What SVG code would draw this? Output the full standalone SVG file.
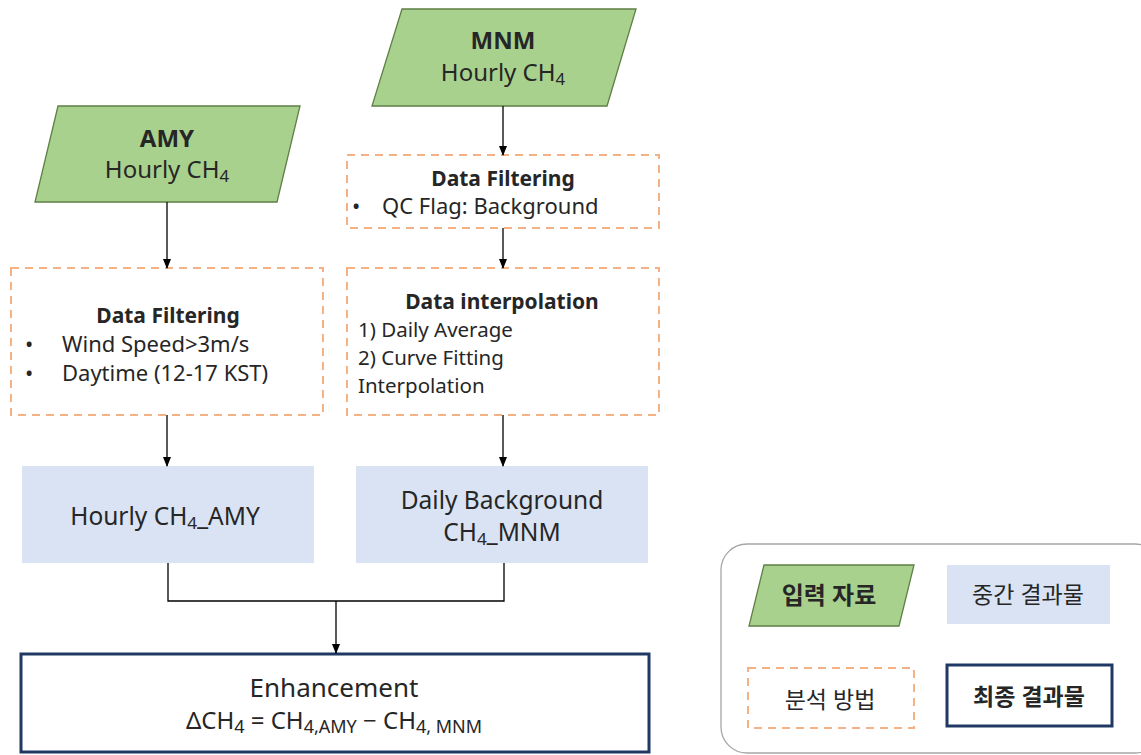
<svg xmlns="http://www.w3.org/2000/svg" width="1141" height="755" viewBox="0 0 1141 755">
<defs>
<style>
text{font-family:"Noto Sans","Noto Sans CJK KR",sans-serif;fill:#262626}
.in{fill:#a9d18e;stroke:#5f7f45;stroke-width:1.3}
.mid{fill:#dae3f3;stroke:none}
.meth{fill:#fff;stroke:#f4b183;stroke-width:2;stroke-dasharray:8 6}
.fin{fill:#fff;stroke:#1f3864;stroke-width:3}
.c{text-anchor:middle}
.b{font-weight:bold}
.ln{fill:none;stroke:#000;stroke-width:1.3}
.sub{font-size:70%}
.t{font-size:21px;font-weight:bold}
.bd{font-size:22px}
.bi{font-size:20.5px}
</style>
<marker id="ah" markerWidth="10" markerHeight="10" refX="9" refY="5" orient="auto" markerUnits="userSpaceOnUse">
<path d="M0,1 L10,5 L0,9 z" fill="#000"/>
</marker>
</defs>
<rect width="1141" height="755" fill="#fff"/>

<g id="amy-input">
<polygon class="in" points="58,106 300,106 277,202 35,202"/>
<text class="c b" x="167" y="147" font-size="24">AMY</text>
<text class="c" x="167" y="178" font-size="24">Hourly CH<tspan class="sub" dy="4">4</tspan></text>
</g>

<g id="mnm-input">
<polygon class="in" points="402,9 636,9 607,106 372,106"/>
<text class="c b" x="503" y="49" font-size="24">MNM</text>
<text class="c" x="503" y="81" font-size="24">Hourly CH<tspan class="sub" dy="4">4</tspan></text>
</g>

<g id="mnm-filter">
<rect class="meth" x="347" y="155" width="312" height="73"/>
<text class="c t" x="503" y="186">Data Filtering</text>
<text class="bd" x="352" y="214">•</text>
<text class="bd" x="382" y="214">QC Flag: Background</text>
</g>

<g id="amy-filter">
<rect class="meth" x="11" y="268" width="312" height="147"/>
<text class="c t" x="168" y="323">Data Filtering</text>
<text class="bd" x="25" y="352">•</text>
<text class="bd" x="62" y="352">Wind Speed&gt;3m/s</text>
<text class="bd" x="25" y="381">•</text>
<text class="bd" x="62" y="381">Daytime (12-17 KST)</text>
</g>

<g id="mnm-interp">
<rect class="meth" x="347" y="268" width="312" height="147"/>
<text class="c t" x="502" y="309">Data interpolation</text>
<text class="bi" x="358" y="337">1) Daily Average</text>
<text class="bi" x="358" y="365">2) Curve Fitting</text>
<text class="bi" x="358" y="393">Interpolation</text>
</g>

<g id="amy-hourly">
<rect class="mid" x="22" y="466" width="292" height="97"/>
<text class="c" x="165" y="525" font-size="24.5">Hourly CH<tspan class="sub" dy="4">4</tspan><tspan dy="-4">_AMY</tspan></text>
</g>

<g id="mnm-background">
<rect class="mid" x="356" y="466" width="292" height="97"/>
<text class="c" x="502" y="509" font-size="24.5">Daily Background</text>
<text class="c" x="502" y="541" font-size="24.5">CH<tspan class="sub" dy="4">4</tspan><tspan dy="-4">_MNM</tspan></text>
</g>

<g id="enhancement">
<rect class="fin" x="21" y="654" width="628" height="98"/>
<text class="c" x="334" y="697" font-size="26">Enhancement</text>
<text class="c" x="334" y="729" font-size="24">ΔCH<tspan font-size="75%" dy="4">4</tspan><tspan dy="-4"> = CH</tspan><tspan font-size="75%" dy="4">4,AMY</tspan><tspan dy="-4"> − CH</tspan><tspan font-size="75%" dy="4">4, MNM</tspan></text>
</g>

<g id="connectors">
<line class="ln" x1="167" y1="202" x2="167" y2="268" marker-end="url(#ah)"/>
<line class="ln" x1="503" y1="106" x2="503" y2="155" marker-end="url(#ah)"/>
<line class="ln" x1="503" y1="228" x2="503" y2="268" marker-end="url(#ah)"/>
<line class="ln" x1="167" y1="415" x2="167" y2="466" marker-end="url(#ah)"/>
<line class="ln" x1="503" y1="415" x2="503" y2="466" marker-end="url(#ah)"/>
<polyline class="ln" points="168,563 168,601 504,601 504,563"/>
<line class="ln" x1="336" y1="601" x2="336" y2="653" marker-end="url(#ah)"/>
</g>

<g id="legend">
<rect x="721" y="544" width="440" height="209" rx="26" ry="26" fill="#fff" stroke="#a6a6a6" stroke-width="1.3"/>
<polygon class="in" points="764,565 914,565 899,626 749,626"/>
<text class="c b" x="829" y="604" font-size="24">입력 자료</text>
<rect class="mid" x="947" y="565" width="163" height="59"/>
<text class="c" x="1028" y="603" font-size="23">중간 결과물</text>
<rect class="meth" x="748" y="668" width="166" height="60"/>
<text class="c" x="830" y="708" font-size="23">분석 방법</text>
<rect class="fin" x="947" y="665" width="165" height="61"/>
<text class="c b" x="1029" y="705" font-size="23">최종 결과물</text>
</g>
</svg>
